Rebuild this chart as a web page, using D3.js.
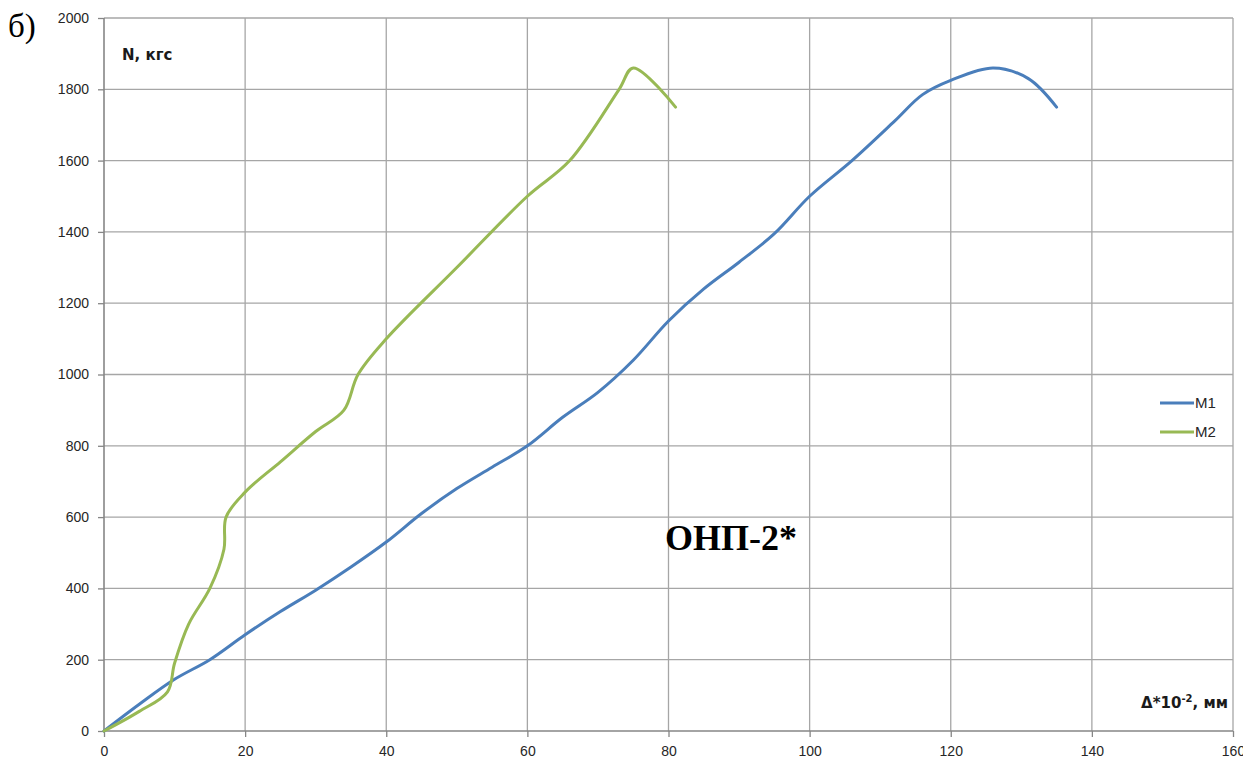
<!DOCTYPE html>
<html><head><meta charset="utf-8">
<script src="https://cdn.jsdelivr.net/npm/d3@7"></script>
<style>body{margin:0;background:#fff}</style>
</head><body>
<svg id="c" width="1243" height="766"></svg>
<script>
const xTicks = [0,20,40,60,80,100,120,140,160];
const yTicks = [0,200,400,600,800,1000,1200,1400,1600,1800,2000];
const m1X = [0,5,10,15,20,25,30,35,40,45,50,55,60,65,70,75,80,85,90,95,100,106,112,116,120,126,131,135];
const m1Y = [0,75,145,200,270,335,395,460,530,610,680,740,800,880,950,1040,1150,1240,1315,1395,1500,1600,1710,1785,1825,1860,1830,1750];
const m2X = [0,5,9,10,12,15,17,17.3,20,25,30,34,36,40,50,60,66,73,75,81];
const m2Y = [0,55,110,190,300,400,510,600,670,755,840,900,1000,1100,1300,1500,1600,1800,1860,1750];
const seriesNames = ["M1","M2"];
const colors = ["#4a7ebb","#98b954"];

const svg = d3.select("#c");
const x = d3.scaleLinear().domain([0,160]).range([104,1233]);
const y = d3.scaleLinear().domain([0,2000]).range([731,18]);
const tickFont = "'Liberation Sans', Arial, sans-serif";

// gridlines
svg.append("g").selectAll("line").data(xTicks.slice(1)).join("line")
  .attr("x1",d=>x(d)).attr("x2",d=>x(d)).attr("y1",y(0)).attr("y2",y(2000))
  .attr("stroke","#a6a6a6").attr("stroke-width",1.3);
svg.append("g").selectAll("line").data(yTicks.slice(1)).join("line")
  .attr("x1",x(0)).attr("x2",x(160)).attr("y1",d=>y(d)).attr("y2",d=>y(d))
  .attr("stroke","#a6a6a6").attr("stroke-width",1.3);

// axes
const xAxis = d3.axisBottom(x).tickValues(xTicks).tickFormat(d3.format("d")).tickSize(6).tickPadding(9);
const yAxis = d3.axisLeft(y).tickValues(yTicks).tickFormat(d3.format("d")).tickSize(6).tickPadding(9);
const gx = svg.append("g").attr("transform",`translate(0,${y(0)})`).call(xAxis);
const gy = svg.append("g").attr("transform",`translate(${x(0)},0)`).call(yAxis);
[gx,gy].forEach(g=>{
  g.select(".domain").attr("stroke","#868686").attr("stroke-width",1.6);
  g.selectAll(".tick line").attr("stroke","#868686").attr("stroke-width",1.3);
  g.selectAll(".tick text").attr("fill","#262626").style("font-family",tickFont).style("font-size","14px");
});
gx.select(".domain").attr("d",`M${x(0)},0H${x(160)}`);
gy.select(".domain").attr("d",`M0,${y(0)}V${y(2000)}`);

// lines
const line = d3.line().x(d=>x(d[0])).y(d=>y(d[1])).curve(d3.curveCatmullRom.alpha(0.5));
const s1 = m1X.map((v,i)=>[v,m1Y[i]]);
const s2 = m2X.map((v,i)=>[v,m2Y[i]]);
[s1,s2].forEach((s,i)=>{
  svg.append("path").attr("d",line(s)).attr("fill","none")
    .attr("stroke",colors[i]).attr("stroke-width",3).attr("stroke-linejoin","round").attr("stroke-linecap","round");
});

// legend
seriesNames.forEach((n,i)=>{
  const ly = 403 + i*29;
  svg.append("line").attr("x1",1160).attr("x2",1194).attr("y1",ly).attr("y2",ly)
    .attr("stroke",colors[i]).attr("stroke-width",3);
  svg.append("text").attr("x",1195).attr("y",ly+5).text(n)
    .attr("fill","#262626").style("font-family",tickFont).style("font-size","15px");
});

// titles
const boldFont = "'DejaVu Sans', Verdana, sans-serif";
svg.append("text").attr("x",122).attr("y",60).text("N, кгс")
  .attr("fill","#1a1a1a").style("font-family",boldFont).style("font-size","15px").style("font-weight","bold");
const t = svg.append("text").attr("x",1228).attr("y",708).attr("text-anchor","end")
  .attr("fill","#1a1a1a").style("font-family",boldFont).style("font-size","15px").style("font-weight","bold");
t.append("tspan").text("Δ*10");
t.append("tspan").text("-2").attr("dy",-6).style("font-size","10px");
t.append("tspan").text(", мм").attr("dy",6);

svg.append("text").attr("x",665).attr("y",550).text("ОНП-2*")
  .attr("fill","#000").style("font-family","'Liberation Serif', 'Times New Roman', serif").style("font-size","36px").style("font-weight","bold");
svg.append("text").attr("x",8).attr("y",37).text("б)")
  .attr("fill","#000").style("font-family","'Liberation Serif', 'Times New Roman', serif").style("font-size","33px");
</script>
</body></html>
